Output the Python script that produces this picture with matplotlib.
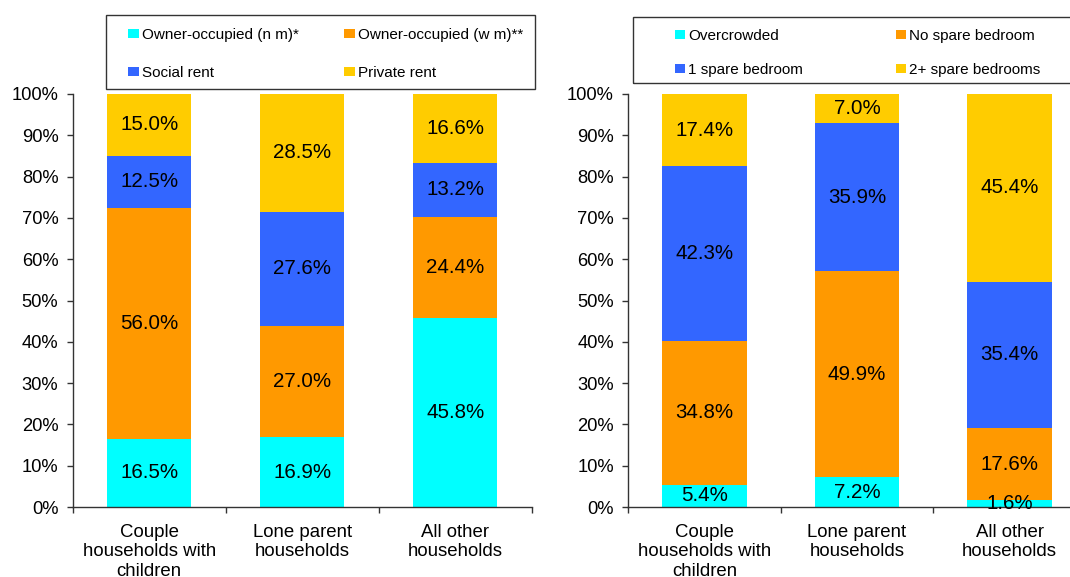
import numpy as np
import matplotlib
matplotlib.use("Agg")
import matplotlib.pyplot as plt
from matplotlib.patches import Rectangle

plt.rcParams['font.family'] = ['Liberation Sans', 'DejaVu Sans']

# 数据
categories = ['Couple\nhouseholds with\nchildren', 'Lone parent\nhouseholds', 'All other\nhouseholds']

tenure_labels = ['Owner-occupied (n m)*', 'Owner-occupied (w m)**', 'Social rent', 'Private rent']
owner_nm = [16.5, 16.9, 45.8]
owner_wm = [56.0, 27.0, 24.4]
social_rent = [12.5, 27.6, 13.2]
private_rent = [15.0, 28.5, 16.6]

bedroom_labels = ['Overcrowded', 'No spare bedroom', '1 spare bedroom', '2+ spare bedrooms']
overcrowded = [5.4, 7.2, 1.6]
no_spare = [34.8, 49.9, 17.6]
one_spare = [42.3, 35.9, 35.4]
two_plus = [17.4, 7.0, 45.4]

colors = ['#00FFFF', '#FF9900', '#3366FF', '#FFCC00']

W, H = 1070, 577


def px(x, y):
    # 像素坐标 -> figure坐标
    return x / W, 1 - y / H


# 画堆叠柱状图
def draw_stacked(ax, series, labels):
    x = np.arange(len(categories))
    bottom = np.zeros(len(categories))
    handles = []
    for vals, lab, c in zip(series, labels, colors):
        bars = ax.bar(x, vals, 0.552, bottom=bottom, color=c, label=lab, linewidth=0)
        handles.append(bars)
        for xi, v, b in zip(x, vals, bottom):
            ax.text(xi, b + v / 2, f'{v:.1f}%', ha='center', va='center', fontsize=14.8)
        bottom = bottom + np.array(vals)

    ax.set_ylim(0, 100)
    ax.set_xlim(-0.5, 2.5)
    ticks = list(range(0, 101, 10))
    ax.set_yticks(ticks)
    ax.set_yticklabels([f'{t}%' for t in ticks], fontsize=13.2)
    ax.tick_params(axis='y', length=4, width=1, pad=6.3, color='#333333')

    ax.set_xticks([-0.5, 0.5, 1.5, 2.5])
    ax.set_xticklabels([])
    ax.tick_params(axis='x', which='major', length=4, width=1, color='#333333')
    ax.set_xticks([0, 1, 2], minor=True)
    ax.set_xticklabels(categories, minor=True, fontsize=13.4)
    ax.tick_params(axis='x', which='minor', length=0, pad=12)

    for s in ['top', 'right']:
        ax.spines[s].set_visible(False)
    for s in ['left', 'bottom']:
        ax.spines[s].set_color('#333333')
        ax.spines[s].set_linewidth(1)
    return handles


fig = plt.figure(figsize=(10.7, 5.77), dpi=100)

ax1 = fig.add_axes([72.7 / W, 70 / H, 459 / W, 413 / H])
ax2 = fig.add_axes([628.3 / W, 70 / H, 457.5 / W, 413 / H])

h1 = draw_stacked(ax1, [owner_nm, owner_wm, social_rent, private_rent], tenure_labels)
h2 = draw_stacked(ax2, [overcrowded, no_spare, one_spare, two_plus], bedroom_labels)

# 图例边框
for (x0, y0, x1, y1) in [(106, 15, 535, 89), (633, 17, 1080, 83)]:
    fx0, fy1 = px(x0, y1)
    fx1, fy0 = px(x1, y0)
    fig.patches.append(Rectangle((fx0, fy1), fx1 - fx0, fy0 - fy1, transform=fig.transFigure,
                                 fill=False, edgecolor='#333333', linewidth=1))

# 图例 (按行排列)
fig.legend(handles=[h1[0], h1[2], h1[1], h1[3]], ncol=2, frameon=False, loc='upper left',
           bbox_to_anchor=px(128, 28), bbox_transform=fig.transFigure,
           borderpad=0, borderaxespad=0, handlelength=0.7, handleheight=0.6,
           handletextpad=0.2, columnspacing=3.0, labelspacing=1.56, fontsize=11)
fig.legend(handles=[h2[0], h2[2], h2[1], h2[3]], ncol=2, frameon=False, loc='upper left',
           bbox_to_anchor=px(675, 29), bbox_transform=fig.transFigure,
           borderpad=0, borderaxespad=0, handlelength=0.65, handleheight=0.6,
           handletextpad=0.2, columnspacing=6.1, labelspacing=1.31, fontsize=11)

fig.savefig('out.png', dpi=100)
